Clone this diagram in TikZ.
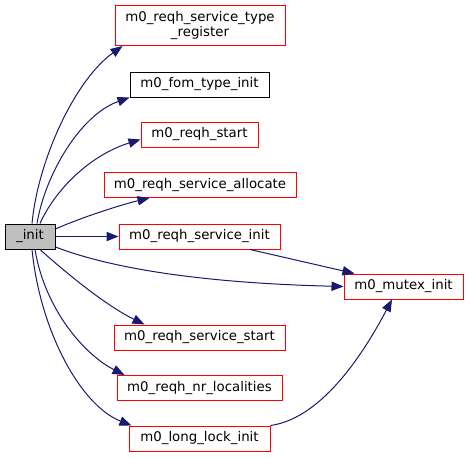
\documentclass[tikz,border=0pt]{standalone}
\usepackage{fontspec}
\setmainfont{DejaVu Sans}
\usetikzlibrary{arrows.meta,calc}
\definecolor{edgeblue}{HTML}{191970}
\definecolor{boxred}{HTML}{FF0000}
\definecolor{initgray}{HTML}{BFBFBF}
\begin{document}
\begin{tikzpicture}[x=0.75pt,y=-0.75pt,
  box/.style={draw=boxred,line width=0.75pt,fill=white,inner sep=0pt,minimum height=18.75pt,font=\fontsize{10}{11.25}\selectfont,align=center},
  blackbox/.style={box,draw=black},
  rootbox/.style={box,draw=black,fill=initgray},
  edge/.style={draw=edgeblue,line width=0.75pt,-{Triangle[length=9pt,width=7pt]}}]
\useasboundingbox (0,0) rectangle (469,458);
\node[rootbox,minimum width=37.5pt] (init) at (30,236.5) {\_init};
\node[box,minimum width=127.5pt,minimum height=30pt] (reg) at (200,25.5) {m0\_reqh\_service\_type\\\_register};
\node[blackbox,minimum width=104.25pt] (fom) at (199.5,84.5) {m0\_fom\_type\_init};
\node[box,minimum width=87.75pt] (start) at (199.5,134.5) {m0\_reqh\_start};
\node[box,minimum width=144pt] (alloc) at (200,185) {m0\_reqh\_service\_allocate};
\node[box,minimum width=120.75pt] (sinit) at (199.5,236.5) {m0\_reqh\_service\_init};
\node[box,minimum width=89.25pt] (mutex) at (403.5,286.5) {m0\_mutex\_init};
\node[box,minimum width=128.25pt] (sstart) at (199.5,337.5) {m0\_reqh\_service\_start};
\node[box,minimum width=123.75pt] (nrloc) at (199.5,388) {m0\_reqh\_nr\_localities};
\node[box,minimum width=105.75pt] (llock) at (199.5,438.5) {m0\_long\_lock\_init};

\draw[edge] ($(init.north)+(2,0)$) .. controls (38,160) and (75,80) .. ($(reg.south west)+(8,0)$);
\draw[edge] ($(init.north)+(7,0)$) .. controls (45,175) and (80,115) .. (fom.south west);
\draw[edge] ($(init.north)+(10,0)$) .. controls (55,190) and (90,155) .. ($(start.west)+(0,5)$);
\draw[edge] ($(init.east)+(0,-7.5)$) .. controls (80,218) and (120,205) .. ($(alloc.south west)+(46,0)$);
\draw[edge] (init.east) -- (sinit.west);
\draw[edge] ($(init.east)+(0,10.5)$) .. controls (110,268) and (200,283) .. (mutex.west);
\draw[edge] ($(sinit.south)+(50.5,0)$) -- ($(mutex.north west)+(11,0)$);
\draw[edge] ($(init.south)+(10,0)$) .. controls (65,272) and (105,305) .. ($(sstart.north west)+(31,0)$);
\draw[edge] ($(init.south)+(5,0)$) .. controls (45,310) and (85,355) .. ($(nrloc.north west)+(8,0)$);
\draw[edge] ($(init.south)+(2,0)$) .. controls (40,330) and (80,405) .. ($(llock.north west)+(3,0)$);
\draw[edge] (llock.north east) .. controls (325,418) and (368,345) .. ($(mutex.south)+(-11.5,0)$);
\end{tikzpicture}
\end{document}
